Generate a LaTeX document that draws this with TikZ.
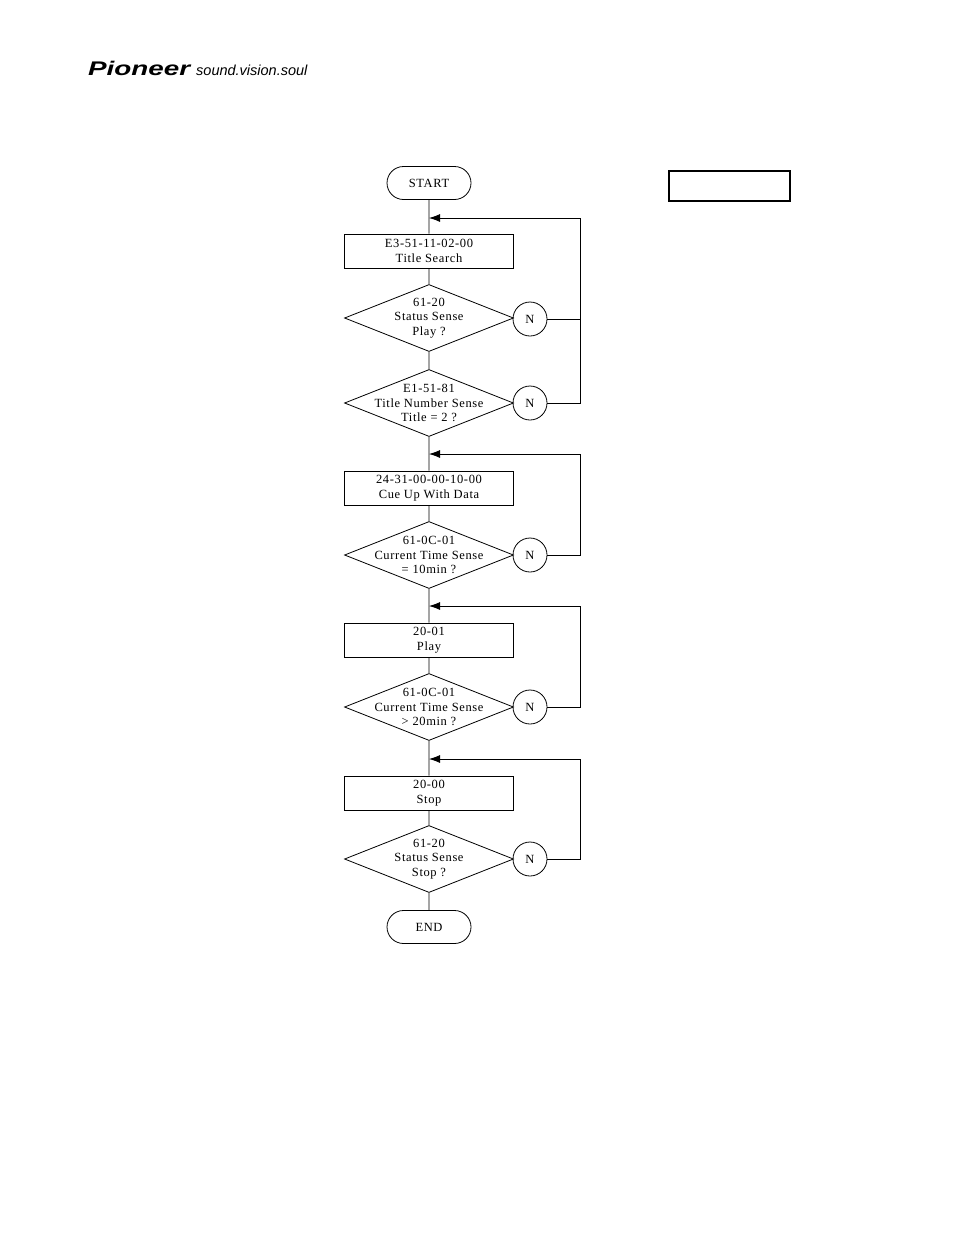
\documentclass[tikz,border=0pt]{standalone}
\usepackage{fontspec}
\setmainfont{Liberation Serif}
\newfontfamily\chartfont[LetterSpace=5]{Liberation Serif}
\newfontfamily\logofont{Liberation Sans}
\usetikzlibrary{positioning,shapes.geometric,shapes.misc,arrows.meta}

\begin{document}
\begin{tikzpicture}[x=1pt,y=-1pt,
    every node/.style={font=\chartfont\fontsize{12.5}{15}\selectfont},
    terminal/.style={draw,rounded rectangle,minimum width=84pt,minimum height=33pt,inner sep=0pt,line width=0.8pt},
    process/.style={draw,rectangle,minimum width=169pt,minimum height=34pt,inner sep=0pt,align=center,line width=0.8pt},
    decision/.style={draw,diamond,minimum width=169pt,minimum height=67pt,inner sep=0pt,line width=0.8pt},
    dtext/.style={align=center,inner sep=0pt,font=\chartfont\fontsize{12.5}{14.5}\selectfont},
    nobox/.style={draw,circle,minimum size=34pt,inner sep=0pt,line width=0.8pt},
    line/.style={draw,line width=0.8pt},
    back/.style={line,-{Latex[length=11pt,width=8pt]}}]
                \useasboundingbox (0,0) rectangle (954,1235);
                % header
                \node[anchor=base west,inner sep=0pt,font=\logofont\bfseries\itshape\fontsize{20}{20}\selectfont] (brand) at (88,75) {\resizebox{102pt}{14.3pt}{Pioneer}};
                \node[anchor=base west,inner sep=0pt,font=\logofont\itshape\fontsize{14.5}{14.5}\selectfont] (tagline) at (196,75) {sound.vision.soul};
                \node[draw,line width=1.3pt,minimum width=121pt,minimum height=30pt] (blank) at (729.5,186) {};
                % flow
                \node[terminal] (start) at (429,183) {START};
                \node[process] (search) at (429,251) {E3-51-11-02-00\\Title Search};
                \node[decision] (play) at (429,318) {};
                \node[dtext] (playtxt) at (play) {61-20\\Status Sense\\Play ?};
                \node[nobox] (n1) at (530,319) {N};
                \node[decision] (title) at (429,403) {};
                \node[dtext] (titletxt) at (title) {E1-51-81\\Title Number Sense\\Title = 2 ?};
                \node[nobox] (n2) at (530,403) {N};
                \node[process] (cue) at (429,488) {24-31-00-00-10-00\\Cue Up With Data};
                \node[decision] (ten) at (429,555) {};
                \node[dtext] (tentxt) at (ten) {61-0C-01\\Current Time Sense\\= 10min ?};
                \node[nobox] (n3) at (530,555) {N};
                \node[process] (playcmd) at (429,640) {20-01\\Play};
                \node[decision] (twenty) at (429,707) {};
                \node[dtext] (twentytxt) at (twenty) {61-0C-01\\Current Time Sense\\> 20min ?};
                \node[nobox] (n4) at (530,707) {N};
                \node[process] (stop) at (429,793) {20-00\\Stop};
                \node[decision] (stopped) at (429,859) {};
                \node[dtext] (stoppedtxt) at (stopped) {61-20\\Status Sense\\Stop ?};
                \node[nobox] (n5) at (530,859) {N};
                \node[terminal] (end) at (429,927) {END};
                % loop corners
                \coordinate (j1) at (429,218); \coordinate (r1) at (580,218);
                \coordinate (j2) at (429,454); \coordinate (r2) at (580,454);
                \coordinate (j3) at (429,606); \coordinate (r3) at (580,606);
                \coordinate (j4) at (429,759); \coordinate (r4) at (580,759);
                \draw[line] (start) -- (search) -- (play) -- (title) -- (cue) -- (ten) -- (playcmd) -- (twenty) -- (stop) -- (stopped) -- (end);
                \draw[back] (n1) -| (r1) -- (j1);
                \draw[line] (n2) -| (r1);
                \draw[back] (n3) -| (r2) -- (j2);
                \draw[back] (n4) -| (r3) -- (j3);
                \draw[back] (n5) -| (r4) -- (j4);
            \end{tikzpicture}
\end{document}
